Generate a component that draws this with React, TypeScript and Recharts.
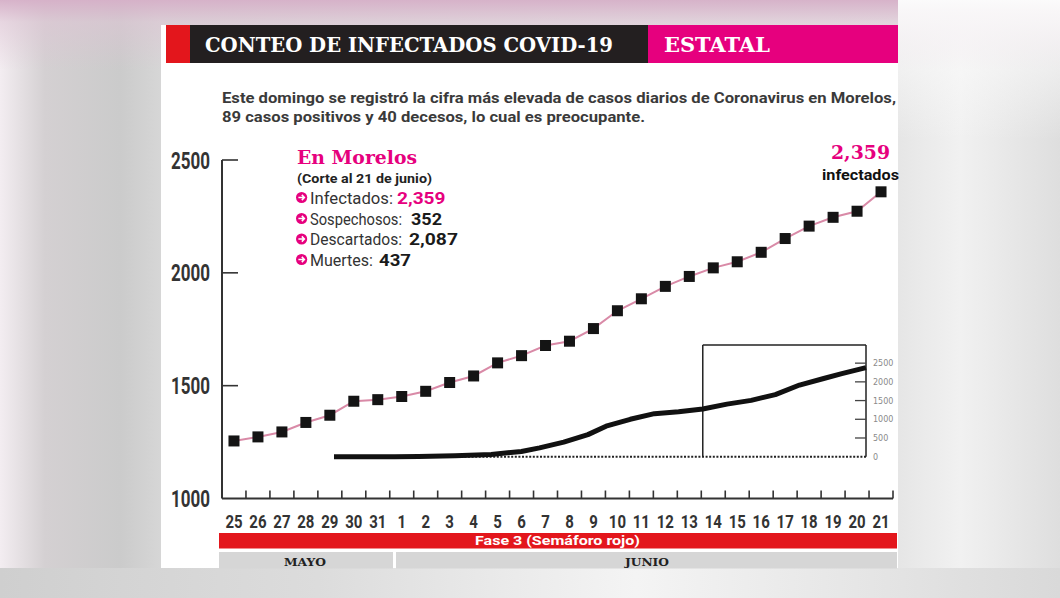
import React from 'react';
import { LineChart, Line, XAxis, YAxis, ReferenceLine } from 'recharts';

// ---------- data ----------
const dayLabels = ['25', '26', '27', '28', '29', '30', '31', '1', '2', '3', '4', '5', '6', '7', '8', '9', '10', '11', '12', '13', '14', '15', '16', '17', '18', '19', '20', '21'];
const infected = [1255, 1273, 1295, 1337, 1369, 1431, 1438, 1452, 1475, 1514, 1543, 1601, 1633, 1678, 1697, 1753, 1832, 1885, 1940, 1984, 2022, 2049, 2091, 2152, 2207, 2246, 2273, 2359];
const yTicks = [1000, 1500, 2000, 2500];

// inset: cumulative cases since the first days (day index)
const insetDays = [0, 10, 14, 20, 26, 31, 34, 38, 42, 45, 49, 53, 57, 61, 65, 69, 73, 77, 81, 84, 88];
const insetValues = [0, 2, 8, 25, 60, 140, 235, 390, 590, 815, 1000, 1150, 1200, 1275, 1405, 1505, 1660, 1915, 2090, 2220, 2380];
const insetTicks = [0, 500, 1000, 1500, 2000, 2500];
const insetDomainMax = 2985;
const zoomStartDay = 61;
const zoomEndDay = 88;

const legendRows = [
  { label: 'Infectados:', value: '2,359', pink: true },
  { label: 'Sospechosos:', value: '352', pink: false },
  { label: 'Descartados:', value: '2,087', pink: false },
  { label: 'Muertes:', value: '437', pink: false },
];

// ---------- styles ----------
const MAGENTA = '#e6007e';
const RED = '#e3161c';
const DARK = '#333333';
const COND = 'Roboto, "DejaVu Sans", sans-serif';
const SLAB = '"DejaVu Serif", serif';

const mainData = dayLabels.map((label, i) => ({ i, label, v: infected[i] }));
const xTicks = dayLabels.flatMap((_, i) => [i, i + 0.5]);
const insetData = insetDays.map((d, k) => ({ d, value: insetValues[k] }));

const XTick = (props: any) => {
  const { x, y, payload } = props;
  const v = payload.value as number;
  if (Number.isInteger(v)) {
    const t = dayLabels[v];
    return (
      <text x={x} y={y + 29.5} textAnchor="middle" fontFamily={COND} fontWeight={700} fontSize={19} fill={DARK}
        textLength={t.length * 8.6} lengthAdjust="spacingAndGlyphs">{t}</text>
    );
  }
  return <line x1={x} x2={x} y1={y} y2={y - 8} stroke={DARK} strokeWidth={1.6} />;
};

const YTick = (props: any) => {
  const { x, y, payload } = props;
  return (
    <g>
      {payload.value !== 1000 && <line x1={x} x2={x + 16} y1={y} y2={y} stroke={DARK} strokeWidth={1.6} />}
      <text x={x - 12} y={y + 8.5} textAnchor="end" fontFamily={COND} fontWeight={700} fontSize={24} fill={DARK}
        textLength={39} lengthAdjust="spacingAndGlyphs">{payload.value}</text>
    </g>
  );
};

const InsetTick = (props: any) => {
  const { x, y, payload } = props;
  return (
    <g>
      {payload.value > 0 && <line x1={x - 11} x2={x} y1={y} y2={y} stroke="#444" strokeWidth={1.3} />}
      <text x={x + 7} y={y + 3} fontFamily='"DejaVu Sans", sans-serif' fontSize={8} fill="#8a8a8a">{payload.value}</text>
    </g>
  );
};

const SquareDot = (props: any) => {
  const { cx, cy, index } = props;
  if (cx == null || cy == null) return <g key={`e${index}`} />;
  return <rect key={`d${index}`} x={cx - 5.5} y={cy - 5.5} width={11} height={11} fill="#141414" />;
};

const Icon = ({ x, y }: { x: number; y: number }) => (
  <g>
    <circle cx={x} cy={y} r={5.6} fill={MAGENTA} />
    <path d={`M ${x - 3.2} ${y} H ${x + 2.6} M ${x + 0.2} ${y - 2.6} L ${x + 2.8} ${y} L ${x + 0.2} ${y + 2.6}`} stroke="#fff" strokeWidth={1.5} fill="none" />
  </g>
);

export default function App() {
  const W = 1060;
  const H = 598;
  return (
    <div style={{
      position: 'fixed', left: 0, top: 0, width: W, height: H, overflow: 'hidden',
      background: 'linear-gradient(to bottom, rgba(214,176,200,0.95) 0px, rgba(222,196,212,0.55) 22px, rgba(225,225,225,0) 70px), linear-gradient(to right, #f3edf1 0px, #d4d0d2 45px, #cbcbcb 120px, #d6d6d6 160px, #e2e2e2 600px, #e6e6e6 900px, #f1f1f1 960px, #dedede 1060px)',
    }}>
      <div style={{ position: 'absolute', left: 0, top: 568, width: W, height: 30, background: 'linear-gradient(to right, #cfcfcf, #dcdcdc 30%, #f4f4f4 60%, #d9d9d9 100%)' }} />
      <div style={{ position: 'absolute', left: 898, top: 0, width: 162, height: 140, background: 'linear-gradient(to bottom, #fbfbfb, rgba(240,240,240,0))' }} />

      <svg width={W} height={H} style={{ position: 'absolute', left: 0, top: 0 }}>
        <rect x={161} y={25} width={737} height={543} fill="#ffffff" />
        <rect x={166} y={25} width={24} height={38} fill={RED} />
        <rect x={190} y={25} width={458} height={38} fill="#231f20" />
        <rect x={648} y={25} width={250} height={38} fill={MAGENTA} />
        <text x={205} y={51.5} fontFamily={SLAB} fontWeight={700} fontSize={21} fill="#fff" textLength={408} lengthAdjust="spacingAndGlyphs">CONTEO DE INFECTADOS COVID-19</text>
        <text x={664} y={51.5} fontFamily={SLAB} fontWeight={700} fontSize={21} fill="#fff" textLength={106} lengthAdjust="spacingAndGlyphs">ESTATAL</text>
        <text x={222} y={102.5} fontFamily={COND} fontWeight={700} fontSize={15} fill="#3a3a3a" textLength={674} lengthAdjust="spacingAndGlyphs">Este domingo se registró la cifra más elevada de casos diarios de Coronavirus en Morelos,</text>
        <text x={222} y={121.5} fontFamily={COND} fontWeight={700} fontSize={15} fill="#3a3a3a" textLength={423} lengthAdjust="spacingAndGlyphs">89 casos positivos y 40 decesos, lo cual es preocupante.</text>
        <rect x={219} y={533} width={678} height={15.5} fill={RED} />
        <text x={557.5} y={545} textAnchor="middle" fontFamily={COND} fontWeight={700} fontSize={12.5} fill="#fff" textLength={165} lengthAdjust="spacingAndGlyphs">Fase 3 (Semáforo rojo)</text>
        <rect x={219} y={552} width={174} height={16.5} fill="#d6d6d6" />
        <rect x={396} y={552} width={501} height={16.5} fill="#d6d6d6" />
        <text x={305} y={565.5} textAnchor="middle" fontFamily={SLAB} fontWeight={700} fontSize={11} fill="#222" textLength={42} lengthAdjust="spacingAndGlyphs">MAYO</text>
        <text x={647} y={565.5} textAnchor="middle" fontFamily={SLAB} fontWeight={700} fontSize={11} fill="#222" textLength={44} lengthAdjust="spacingAndGlyphs">JUNIO</text>
      </svg>

      <div style={{ position: 'absolute', left: 0, top: 0 }}>
        <LineChart width={W} height={H} data={mainData} margin={{ top: 160, right: 167, bottom: 59.5, left: 162 }}>
          <XAxis dataKey="i" type="number" domain={[-0.5, 27.5]} ticks={xTicks} interval={0} height={40}
            axisLine={{ stroke: DARK, strokeWidth: 2 }} tickLine={false} tickSize={0} tickMargin={0} tick={XTick} />
          <YAxis type="number" domain={[1000, 2500]} ticks={yTicks} interval={0} width={60}
            axisLine={{ stroke: DARK, strokeWidth: 2 }} tickLine={false} tickSize={0} tickMargin={0} tick={YTick} />
          <Line dataKey="v" type="linear" stroke="#d98aa7" strokeWidth={2} dot={SquareDot} activeDot={false} isAnimationActive={false} />
        </LineChart>
      </div>

      <div style={{ position: 'absolute', left: 0, top: 0 }}>
        <LineChart width={W} height={H} data={insetData} margin={{ top: 345, right: 154, bottom: 141.3, left: 334 }}>
          <XAxis dataKey="d" type="number" domain={[0, 88]} hide height={0} />
          <YAxis orientation="right" type="number" domain={[0, insetDomainMax]} ticks={insetTicks} interval={0} width={40}
            axisLine={false} tickLine={false} tickSize={0} tickMargin={0} tick={InsetTick} />
          <ReferenceLine y={0} stroke="#222" strokeWidth={2} strokeDasharray="2 1.6" />
          <ReferenceLine segment={[{ x: zoomStartDay, y: 0 }, { x: zoomStartDay, y: insetDomainMax }]} stroke="#222" strokeWidth={1.5} />
          <ReferenceLine segment={[{ x: zoomStartDay, y: insetDomainMax }, { x: zoomEndDay, y: insetDomainMax }]} stroke="#222" strokeWidth={1.5} />
          <ReferenceLine segment={[{ x: zoomEndDay, y: 0 }, { x: zoomEndDay, y: insetDomainMax }]} stroke="#222" strokeWidth={1.5} />
          <Line dataKey="value" type="linear" stroke="#111" strokeWidth={5} strokeLinejoin="round" dot={false} activeDot={false} isAnimationActive={false} />
        </LineChart>
      </div>

      <svg width={W} height={H} style={{ position: 'absolute', left: 0, top: 0, pointerEvents: 'none' }}>
        <text x={297} y={164} fontFamily={SLAB} fontWeight={700} fontSize={18} fill={MAGENTA} textLength={120} lengthAdjust="spacingAndGlyphs">En Morelos</text>
        <text x={297} y={182.5} fontFamily={COND} fontWeight={700} fontSize={12} fill="#222" textLength={135} lengthAdjust="spacingAndGlyphs">(Corte al 21 de junio)</text>
        {legendRows.map((r, k) => {
          const base = [203.5, 224.5, 245, 265.5][k];
          const labelW = [83, 92, 92, 63][k];
          const valueX = [397, 411, 409, 379][k];
          const valueW = [48.5, 31, 49, 32][k];
          return (
            <g key={r.label}>
              <Icon x={301.6} y={base - 6} />
              <text x={310} y={base} fontFamily={COND} fontWeight={400} fontSize={16} fill="#333" textLength={labelW} lengthAdjust="spacingAndGlyphs">{r.label}</text>
              <text x={valueX} y={base} fontFamily={COND} fontWeight={700} fontSize={16} fill={r.pink ? MAGENTA : '#1a1a1a'} textLength={valueW} lengthAdjust="spacingAndGlyphs">{r.value}</text>
            </g>
          );
        })}
        <text x={831} y={159.4} fontFamily={SLAB} fontWeight={700} fontSize={18} fill={MAGENTA} textLength={59} lengthAdjust="spacingAndGlyphs">2,359</text>
        <text x={822} y={180} fontFamily={COND} fontWeight={700} fontSize={14} fill="#111" textLength={77} lengthAdjust="spacingAndGlyphs">infectados</text>
      </svg>
    </div>
  );
}
